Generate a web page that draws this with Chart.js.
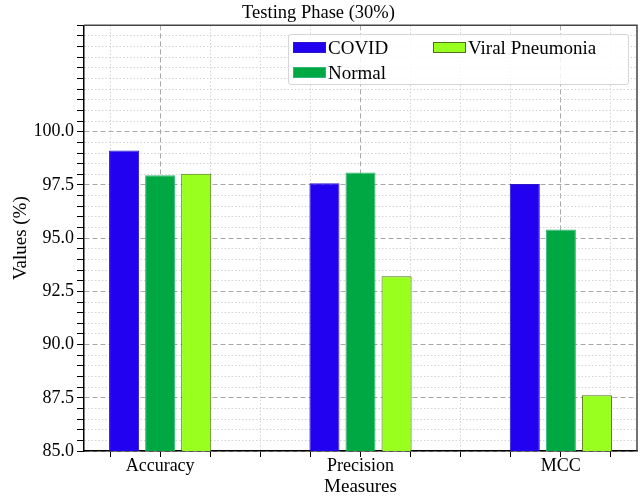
<!DOCTYPE html>
<html lang="en">
<head>
<meta charset="UTF-8">
<title>Testing Phase (30%)</title>
<script src="https://cdn.jsdelivr.net/npm/chart.js"></script>
<style>
    body { margin: 0; background: #fff; }
    .contenedor { position: relative; width: 642px; height: 498px; }
    #leyenda {
        position: absolute; left: 288px; top: 34px; width: 341px; height: 51px;
        box-sizing: border-box; border: 1px solid #d6d6d6; border-radius: 3px;
        background: rgba(255, 255, 255, 0.85);
        display: grid; grid-template-rows: 25px 25px; grid-template-columns: 140px auto;
        grid-auto-flow: column; padding: 0 0 0 4px;
        font: 19px "Liberation Serif", serif; color: #000;
    }
    .item { display: flex; align-items: center; white-space: nowrap; }
    .caja { width: 33px; height: 11px; margin-right: 2px; box-sizing: border-box; border: 1px solid; }
</style>
</head>
<body>
<div class="contenedor">
    <canvas id="barra" width="642" height="498"></canvas>
    <div id="leyenda"></div>
</div>
<script>
// datos
const categorias = ['Accuracy', 'Precision', 'MCC'];
const series = ['COVID', 'Normal', 'Viral Pneumonia'];
const covid = [99.12, 97.58, 97.55];
const normal = [97.96, 98.08, 95.41];
const viral = [98.03, 93.21, 87.62];
const yMayores = [85, 87.5, 90, 92.5, 95, 97.5, 100];
const xMayores = [0, 1, 2];

const rellenos = ['#2200f0', '#00a844', '#99ff1e'];
const bordes = ['#2a18c8', '#30b878', '#4f6e1c'];
const fuente = '"Liberation Serif", "Times New Roman", serif';

const esMayorY = v => yMayores.some(m => Math.abs(m - v) < 1e-9);
const esMayorX = v => xMayores.some(m => Math.abs(m - v) < 1e-9);

// marco superior y derecho (spines de matplotlib)
const marco = {
    id: 'marco',
    afterDraw(chart) {
        const { ctx, chartArea: a } = chart;
        ctx.save();
        ctx.strokeStyle = '#444';
        ctx.lineWidth = 1.5;
        ctx.beginPath();
        ctx.moveTo(a.left, a.top);
        ctx.lineTo(a.right, a.top);
        ctx.lineTo(a.right, a.bottom);
        ctx.stroke();
        ctx.restore();
    }
};

const datos = [covid, normal, viral].map((valores, i) => ({
    label: series[i],
    data: valores.map((v, j) => ({ x: j, y: v })),
    backgroundColor: rellenos[i],
    borderColor: bordes[i],
    borderWidth: 1,
    categoryPercentage: 2.16,
    barPercentage: 0.833
}));

new Chart(document.getElementById('barra'), {
    type: 'bar',
    data: { datasets: datos },
    plugins: [marco],
    options: {
        responsive: false,
        animation: false,
        layout: { padding: { left: 0, right: 5, top: 0, bottom: 0 } },
        plugins: {
            legend: { display: false },
            tooltip: { enabled: false },
            title: {
                display: true,
                text: 'Testing Phase (30%)',
                color: '#000',
                font: { family: fuente, size: 18.5, weight: 'normal', lineHeight: 1.1 },
                padding: { top: 3, bottom: 2 }
            }
        },
        scales: {
            x: {
                type: 'linear',
                offset: false,
                min: -0.38,
                max: 2.38,
                afterBuildTicks: s => {
                    const t = [];
                    for (let v = -0.25; v <= 2.26; v += 0.25) t.push({ value: Math.round(v * 100) / 100 });
                    s.ticks = t;
                },
                afterFit: s => { s.height = 47; },
                ticks: {
                    autoSkip: false,
                    maxRotation: 0,
                    padding: 0,
                    color: '#000',
                    font: { family: fuente, size: 18, lineHeight: 1 },
                    callback: v => esMayorX(v) ? categorias[Math.round(v)] : ''
                },
                grid: {
                    offset: false,
                    color: c => c.tick && esMayorX(c.tick.value) ? '#a8a8a8' : '#d4d4d4',
                    lineWidth: 1,
                    tickLength: 6,
                    tickColor: '#000',
                    tickWidth: 1
                },
                border: {
                    color: '#000',
                    width: 1.5,
                    dash: c => c.tick && esMayorX(c.tick.value) ? [5, 3] : [1.5, 2]
                },
                title: {
                    display: true,
                    text: 'Measures',
                    color: '#000',
                    font: { family: fuente, size: 19, lineHeight: 1 },
                    padding: { top: 0, bottom: 1 }
                }
            },
            y: {
                min: 85,
                max: 105,
                afterBuildTicks: s => {
                    const t = [];
                    for (let v = 85; v <= 105; v += 0.5) t.push({ value: v });
                    s.ticks = t;
                },
                afterFit: s => { s.width = 84; },
                ticks: {
                    autoSkip: false,
                    padding: 3,
                    color: '#000',
                    font: { family: fuente, size: 18, lineHeight: 1.2 },
                    callback: v => esMayorY(v) ? v.toFixed(1) : ''
                },
                grid: {
                    color: c => c.tick && esMayorY(c.tick.value) ? '#a8a8a8' : '#d4d4d4',
                    lineWidth: 1,
                    tickLength: 7,
                    tickColor: '#000',
                    tickWidth: 1
                },
                border: {
                    color: '#000',
                    width: 1.5,
                    dash: c => c.tick && esMayorY(c.tick.value) ? [5, 3] : [1.5, 2]
                },
                title: {
                    display: true,
                    text: 'Values (%)',
                    color: '#000',
                    font: { family: fuente, size: 19, lineHeight: 1 },
                    padding: { top: 12, bottom: 0 }
                }
            }
        }
    }
});

// leyenda en dos columnas como en la figura
const leyenda = document.getElementById('leyenda');
series.forEach((nombre, i) => {
    const item = document.createElement('div');
    item.className = 'item';
    const caja = document.createElement('span');
    caja.className = 'caja';
    caja.style.background = rellenos[i];
    caja.style.borderColor = bordes[i];
    item.appendChild(caja);
    item.appendChild(document.createTextNode(nombre));
    leyenda.appendChild(item);
});
</script>
</body>
</html>
